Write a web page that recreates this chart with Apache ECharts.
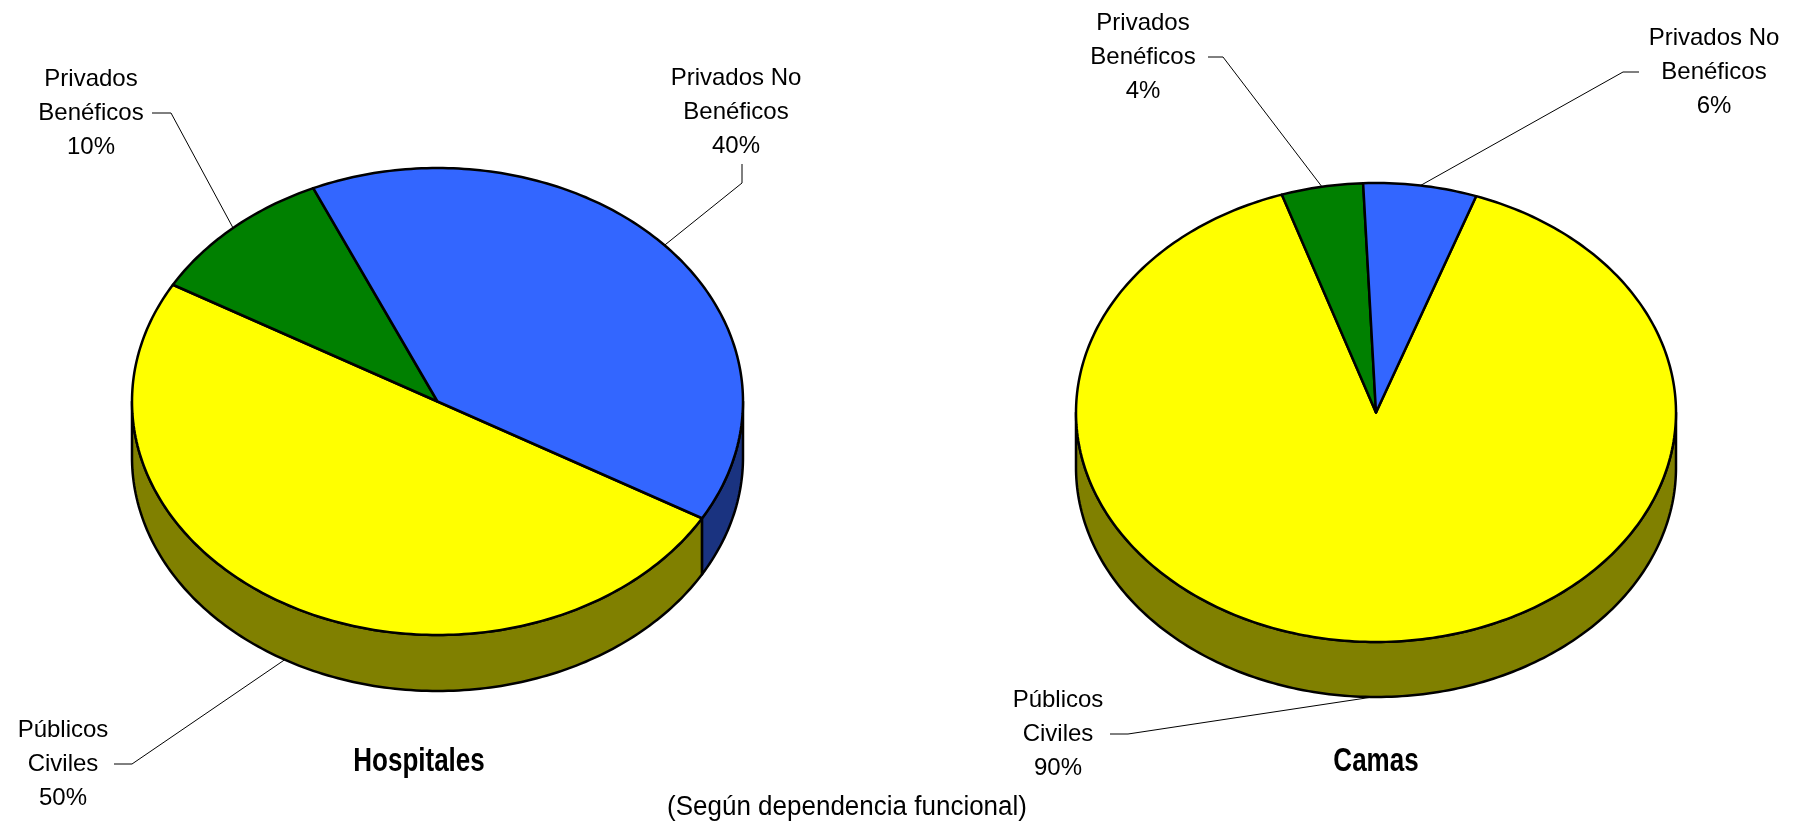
<!DOCTYPE html>
<html>
<head>
<meta charset="utf-8">
<script src="https://cdn.jsdelivr.net/npm/echarts@6/dist/echarts.min.js"></script>
<style>
  html, body { margin: 0; padding: 0; background: #fff; }
  #main { width: 1795px; height: 824px; }
</style>
</head>
<body>
<div id="main"></div>
<script>
// datos
var nombres = ['Públicos\nCiviles', 'Privados\nBenéficos', 'Privados No\nBenéficos'];
var hospitales = [50, 10, 40];
var camas = [89.5, 4.4, 6.1];

var colores = ['#FFFF00', '#008000', '#3366FF'];
var coloresLado = ['#808000', '#004000', '#1A3380'];
var fuente = '"Liberation Sans", Arial, sans-serif';

// geometria de cada torta (posicion de la elipse y de las etiquetas)
var tortas = [
    {
        titulo: 'Hospitales', valores: hospitales,
        cx: 437.5, cy: 401.5, rx: 305.5, ry: 233.5, alto: 56, inicio: 120,
        etiquetas: [
            {x: 63, y: 764, guia: [[114, 764], [132, 764]]},
            {x: 91, y: 113, guia: [[152, 113], [171, 113]]},
            {x: 736, y: 112, guia: [[742, 164], [742, 183]]}
        ]
    },
    {
        titulo: 'Camas', valores: camas,
        cx: 1376, cy: 412.5, rx: 300, ry: 229.5, alto: 55, inicio: 19.5,
        etiquetas: [
            {x: 1058, y: 734, guia: [[1110, 734], [1128, 734]]},
            {x: 1143, y: 57, guia: [[1208, 57], [1223, 57]]},
            {x: 1714, y: 72, guia: [[1639, 72], [1623, 72]]}
        ]
    }
];

function punto(t, a, dy) {
    var r = a * Math.PI / 180;
    return [t.cx + t.rx * Math.sin(r), t.cy - t.ry * Math.cos(r) + (dy || 0)];
}

function arco(t, a0, a1, dy) {
    var pts = [];
    var n = Math.max(2, Math.ceil(Math.abs(a1 - a0)));
    for (var k = 0; k <= n; k++) {
        pts.push(punto(t, a0 + (a1 - a0) * k / n, dy));
    }
    return pts;
}

function serie(t) {
    var total = t.valores.reduce(function (s, v) { return s + v; }, 0);
    var acum = t.inicio;
    var data = t.valores.map(function (v, i) {
        var a0 = acum;
        acum += v / total * 360;
        return {name: nombres[i], value: [v, a0, acum]};
    });
    return {
        type: 'custom',
        coordinateSystem: 'none',
        data: data,
        renderItem: function (params, api) {
            var i = params.dataIndex;
            var v = api.value(0), a0 = api.value(1), a1 = api.value(2);
            var hijos = [];
            var borde = {stroke: '#000', lineWidth: 2.5, lineJoin: 'round'};

            // lado visible (frente de la torta, entre 90 y 270 grados)
            for (var k = -360; k <= 360; k += 360) {
                var s = Math.max(a0 + k, 90), e = Math.min(a1 + k, 270);
                if (e > s) {
                    hijos.push({
                        type: 'polygon',
                        shape: {points: arco(t, s, e, 0).concat(arco(t, e, s, t.alto))},
                        style: Object.assign({fill: coloresLado[i]}, borde)
                    });
                }
            }

            // cara superior
            hijos.push({
                type: 'polygon',
                shape: {points: [[t.cx, t.cy]].concat(arco(t, a0, a1, 0))},
                style: Object.assign({fill: colores[i]}, borde)
            });

            // linea guia y etiqueta
            var et = t.etiquetas[i];
            var medio = (a0 + a1) / 2;
            var frente = Math.cos(medio * Math.PI / 180) < 0;
            var ancla = punto(t, medio, frente ? t.alto : 0);
            hijos.push({
                type: 'polyline',
                z2: 10,
                shape: {points: [et.guia[0], et.guia[1], ancla]},
                style: {stroke: '#000', lineWidth: 1, fill: null}
            });
            hijos.push({
                type: 'text',
                z2: 11,
                style: {
                    text: nombres[i] + '\n' + Math.round(v / total * 100) + '%',
                    x: et.x, y: et.y,
                    textAlign: 'center', textVerticalAlign: 'middle',
                    font: '24px ' + fuente, lineHeight: 34, fill: '#000'
                }
            });
            return {type: 'group', children: hijos};
        }
    };
}

function rotulo(texto, x, y, peso, escala) {
    return {
        type: 'text', x: x, y: y, scaleY: escala,
        style: {
            text: texto, textAlign: 'center', textVerticalAlign: 'middle',
            font: peso + ' 26px ' + fuente, fill: '#000'
        }
    };
}

var chart = echarts.init(document.getElementById('main'));
chart.setOption({
    backgroundColor: '#fff',
    animation: false,
    graphic: [
        rotulo(tortas[0].titulo, 419, 762, 'bold', 1.25),
        rotulo(tortas[1].titulo, 1376, 762, 'bold', 1.25),
        rotulo('(Según dependencia funcional)', 847, 807, 'normal', 1.05)
    ],
    series: tortas.map(serie)
});
</script>
</body>
</html>
